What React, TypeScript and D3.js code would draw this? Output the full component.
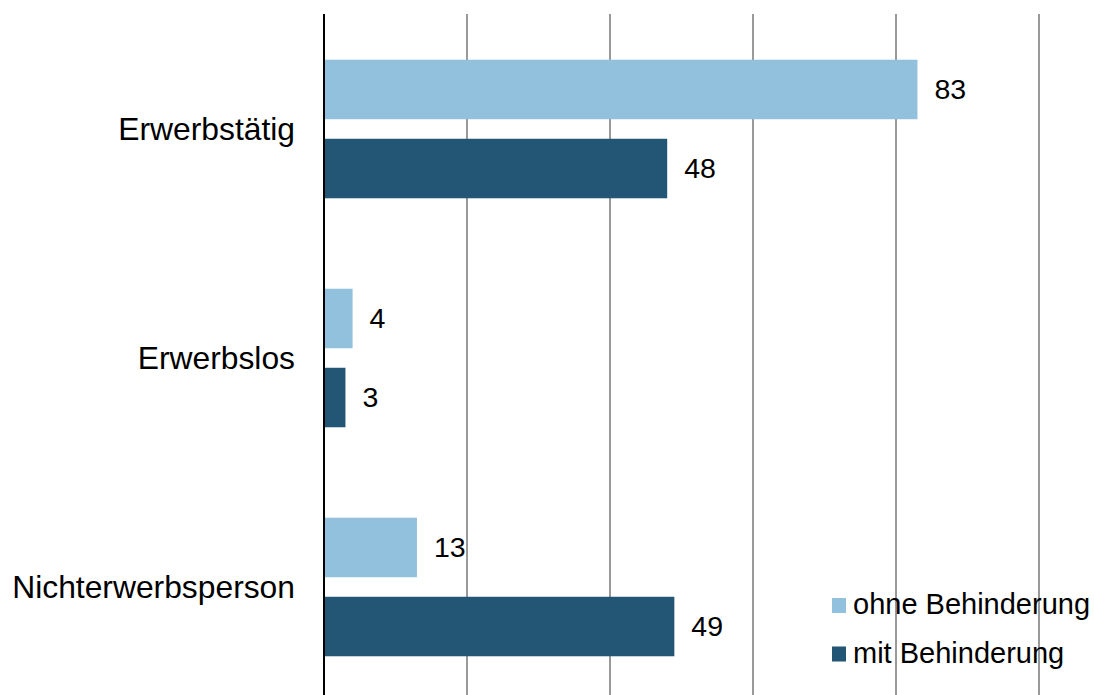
import React from "react";
import * as d3 from "d3";

const categories = ["Erwerbstätig", "Erwerbslos", "Nichterwerbsperson"];
const seriesNames = ["ohne Behinderung", "mit Behinderung"];
const ohneValues = [83, 4, 13];
const mitValues = [48, 3, 49];
const xTicks = [0, 20, 40, 60, 80, 100];
const colors = ["#92c1de", "#235574"];

export default function App() {
  const W = 1094, H = 695;
  const x = d3.scaleLinear().domain([0, 100]).range([324, 1039]);
  const y0 = d3.scaleBand().domain(categories).range([14.5, 701.5]).paddingInner(0.395).paddingOuter(0.1975);
  const y1 = d3.scaleBand().domain(seriesNames).range([0, y0.bandwidth()]).paddingInner(0.247).paddingOuter(0);
  const values = [ohneValues, mitValues];
  const font = "Liberation Sans, Arial, sans-serif";
  return (
    <svg width={W} height={H} style={{ position: "absolute", left: 0, top: 0, background: "#fff" }}>
      {xTicks.slice(1).map((t) => (
        <line key={t} x1={x(t)} x2={x(t)} y1={14} y2={H} stroke="#999" strokeWidth={2} />
      ))}
      {categories.map((c, ci) =>
        seriesNames.map((s, si) => {
          const v = values[si][ci];
          const yy = (y0(c) as number) + (y1(s) as number);
          return (
            <g key={c + s}>
              <rect x={x(0)} y={yy} width={x(v) - x(0)} height={y1.bandwidth()} fill={colors[si]} />
              <text x={x(v) + 17} y={yy + y1.bandwidth() / 2 + 9.5} fontSize={28.5} fontFamily={font} fill="#000">
                {v}
              </text>
            </g>
          );
        })
      )}
      <line x1={x(0)} x2={x(0)} y1={14} y2={H} stroke="#000" strokeWidth={2} />
      {categories.map((c) => (
        <text key={c} x={295} y={(y0(c) as number) + y0.bandwidth() / 2 + 11} textAnchor="end" fontSize={31.8} fontFamily={font} fill="#000">
          {c}
        </text>
      ))}
      {seriesNames.map((s, i) => (
        <g key={s} transform={`translate(832, ${605.5 + i * 48.5})`}>
          <rect x={0} y={-7.5} width={14} height={15} fill={colors[i]} />
          <text x={21} y={8.5} fontSize={29} fontFamily={font} fill="#000">
            {s}
          </text>
        </g>
      ))}
    </svg>
  );
}
